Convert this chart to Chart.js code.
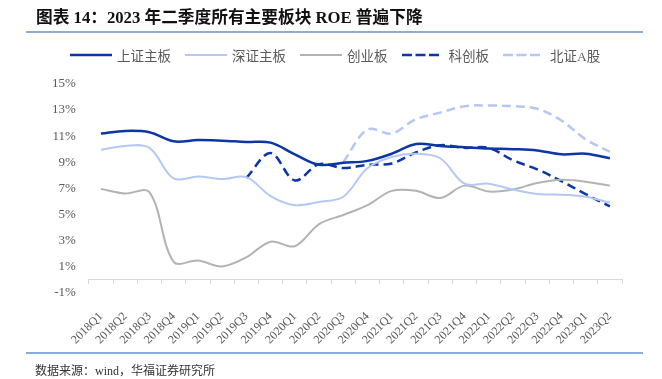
<!DOCTYPE html>
<html>
<head>
<meta charset="utf-8">
<script src="https://cdn.jsdelivr.net/npm/chart.js@4/dist/chart.umd.min.js"></script>
<style>
  html, body { margin: 0; padding: 0; background: #fff; }
  body { width: 662px; height: 379px; position: relative; overflow: hidden;
         font-family: "Liberation Serif", "Noto Sans CJK SC", serif; }
  #title { position: absolute; left: 36px; top: 4px; font-size: 16.7px; font-weight: bold; color: #111; white-space: nowrap; }
  .rule { position: absolute; left: 26px; width: 617px; height: 2px; background: #8eaad6; }
  #legend { position: absolute; left: 70px; top: 45px; display: flex; align-items: center; gap: 14px;
            font-size: 13.5px; color: #595959; white-space: nowrap; }
  #legend .item { display: flex; align-items: center; }
  #legend svg { margin-right: 5px; }
  #source { position: absolute; left: 35px; top: 361px; font-size: 12px; color: #333; white-space: nowrap; }
  #wrap { position: absolute; left: 0; top: 0; width: 662px; height: 379px; }
</style>
</head>
<body>
<div id="wrap"><canvas id="chart"></canvas></div>
<div id="title">图表 14：2023 年二季度所有主要板块 ROE 普遍下降</div>
<div class="rule" style="top:31px"></div>
<div id="legend"></div>
<div class="rule" style="top:352px"></div>
<div id="source">数据来源：wind，华福证券研究所</div>
<script>
// quarters on the x axis
const quarters = [
  "2018Q1", "2018Q2", "2018Q3", "2018Q4", "2019Q1", "2019Q2", "2019Q3", "2019Q4",
  "2020Q1", "2020Q2", "2020Q3", "2020Q4", "2021Q1", "2021Q2", "2021Q3", "2021Q4",
  "2022Q1", "2022Q2", "2022Q3", "2022Q4", "2023Q1", "2023Q2"
];

// ROE (%)
const shMain = [11.2, 11.4, 11.3, 10.6, 10.7, 10.65, 10.55, 10.5, 9.6, 8.8, 8.95, 9.1,
                9.65, 10.4, 10.25, 10.15, 10.05, 10.0, 9.9, 9.6, 9.65, 9.3];
const szMain = [9.95, 10.25, 10.1, 7.75, 7.9, 7.7, 7.85, 6.4, 5.7, 5.95, 6.35, 8.55,
                9.4, 9.65, 9.3, 7.35, 7.35, 6.9, 6.55, 6.5, 6.35, 5.9];
const chiNext = [6.95, 6.6, 6.7, 1.35, 1.45, 1.0, 1.7, 2.9, 2.55, 4.25, 4.95, 5.7,
                 6.8, 6.8, 6.25, 7.2, 6.75, 6.9, 7.4, 7.65, 7.5, 7.2];
const star = [null, null, null, null, null, null, 7.8, 9.7, 7.6, 8.85, 8.55, 8.8,
              8.9, 9.75, 10.3, 10.1, 10.1, 9.15, 8.45, 7.55, 6.55, 5.6];
const bse = [null, null, null, null, null, null, null, null, null, null, 9.0, 11.5,
             11.2, 12.3, 12.8, 13.3, 13.35, 13.3, 13.1, 12.2, 10.75, 9.8];

// y ticks
const yMin = -1;
const yMax = 15;
const yStep = 2;

const DARK = "#0c36a5";
const LIGHT = "#b4c8f5";
const GRAY = "#b3b3b3";
const TEXT = "#595959";
const SERIF = "'Liberation Serif', 'Noto Sans CJK SC', serif";

const series = [
  { label: "上证主板", data: shMain, color: DARK, width: 2.5, dash: [] },
  { label: "深证主板", data: szMain, color: LIGHT, width: 2, dash: [] },
  { label: "创业板", data: chiNext, color: GRAY, width: 2, dash: [] },
  { label: "科创板", data: star, color: DARK, width: 2.5, dash: [9, 5] },
  { label: "北证A股", data: bse, color: LIGHT, width: 2.5, dash: [9, 5] }
];

/* ---------- LEGEND ---------- */

const legendEl = document.getElementById("legend");
series.forEach(s => {
  const item = document.createElement("div");
  item.className = "item";
  // dashed keys are a bit shorter in the original
  const len = s.dash.length ? 37 : 42;
  const dash = s.dash.length ? ` stroke-dasharray="10,3.5"` : "";
  item.innerHTML =
    `<svg width="${len}" height="6"><line x1="0" y1="3" x2="${len}" y2="3" stroke="${s.color}" stroke-width="${s.width}"${dash}/></svg>` +
    `<span style="margin-left:${s.dash.length ? 5 : 0}px">${s.label}</span>`;
  legendEl.appendChild(item);
});

/* ---------- CHART ---------- */

new Chart(document.getElementById("chart"), {
  type: "line",
  data: {
    labels: quarters,
    datasets: series.map(s => ({
      label: s.label,
      data: s.data,
      borderColor: s.color,
      backgroundColor: s.color,
      borderWidth: s.width,
      borderDash: s.dash,
      pointRadius: 0,
      tension: 0.35,
      fill: false,
      xAxisID: "x",
      yAxisID: "y"
    }))
  },
  options: {
    responsive: true,
    maintainAspectRatio: false,
    animation: false,
    events: [],
    layout: { padding: { left: 39, right: 40, top: 84, bottom: 15 } },
    plugins: { legend: { display: false }, tooltip: { enabled: false } },
    scales: {
      y: {
        min: yMin,
        max: yMax,
        grid: { display: false, drawTicks: false },
        border: { display: false },
        ticks: {
          stepSize: yStep,
          padding: 13,
          color: TEXT,
          font: { family: SERIF, size: 13 },
          callback: v => v + "%"
        }
      },
      x: {
        type: "category",
        offset: true,
        position: { y: 0 },
        grid: { display: true, drawOnChartArea: false, drawTicks: true, tickLength: 4, offset: true, color: "#d9d9d9" },
        border: { display: true, color: "#d9d9d9", width: 1 },
        ticks: { display: false }
      },
      xl: {
        type: "category",
        labels: quarters,
        position: "bottom",
        offset: true,
        grid: { display: false, drawTicks: false },
        border: { display: false },
        ticks: {
          autoSkip: false,
          minRotation: 45,
          maxRotation: 45,
          padding: 17,
          color: TEXT,
          font: { family: SERIF, size: 12 }
        }
      }
    }
  }
});
</script>
</body>
</html>
